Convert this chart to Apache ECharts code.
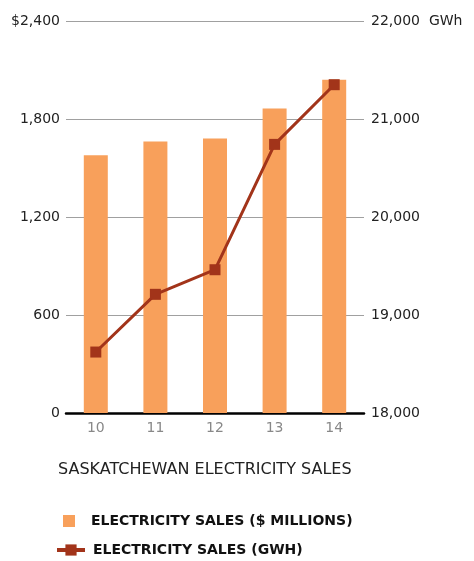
<!DOCTYPE html>
<html>
<head>
<meta charset="utf-8">
<script src="https://cdn.jsdelivr.net/npm/echarts@6/dist/echarts.min.js"></script>
<style>
  html, body { margin: 0; padding: 0; background: #fff; }
  #chart { width: 474px; height: 561px; }
</style>
</head>
<body>
<div id="chart"></div>
<script>
// fiscal years (x-axis)
const years = ["10", "11", "12", "13", "14"];
// electricity sales, $ millions (left axis, bars)
const salesDollars = [1578, 1663, 1681, 1864, 2041];
// electricity sales, GWh (right axis, line)
const salesGwh = [18622, 19211, 19462, 20741, 21350];

const FONT = "DejaVu Sans";
const BAR_COLOR = "#F8A05B";
const LINE_COLOR = "#A2341A";

const chart = echarts.init(document.getElementById("chart"), null, { renderer: "canvas" });

chart.setOption({
  animation: false,
  textStyle: { fontFamily: FONT },
  title: {
    text: "SASKATCHEWAN ELECTRICITY SALES",
    left: 53,
    top: 457,
    textStyle: { fontFamily: FONT, fontSize: 16, fontWeight: "normal", color: "#222" },
  },
  grid: { left: 66, right: 110, top: 21, bottom: 148, containLabel: false },
  legend: [
    {
      data: ["ELECTRICITY SALES ($ MILLIONS)"],
      left: 63,
      top: 514,
      padding: 0,
      itemWidth: 12,
      itemHeight: 12,
      icon: "rect",
      textStyle: { fontFamily: FONT, fontSize: 14, fontWeight: "bold", color: "#111", padding: [0, 0, 0, 11] },
    },
    {
      data: ["ELECTRICITY SALES (GWH)"],
      left: 55,
      top: 543,
      padding: 0,
      itemWidth: 28,
      itemHeight: 14,
      lineStyle: { width: 4 },
      textStyle: { fontFamily: FONT, fontSize: 14, fontWeight: "bold", color: "#111", padding: [0, 0, 0, 3] },
    },
  ],
  xAxis: {
    type: "category",
    data: years,
    axisLine: { lineStyle: { color: "#000", width: 2.5 } },
    axisTick: { show: false },
    axisLabel: { color: "#888", fontSize: 14, margin: 8 },
  },
  yAxis: [
    {
      type: "value",
      min: 0,
      max: 2400,
      interval: 600,
      axisLine: { show: false },
      axisTick: { show: false },
      axisLabel: {
        color: "#222",
        fontSize: 14,
        margin: 6,
        formatter: (v) => (v === 2400 ? "$2,400" : v.toLocaleString("en-US")),
      },
      splitLine: { lineStyle: { color: "#a0a0a0", width: 1.2 } },
    },
    {
      type: "value",
      min: 18000,
      max: 22000,
      interval: 1000,
      axisLine: { show: false },
      axisTick: { show: false },
      axisLabel: {
        color: "#222",
        fontSize: 14,
        margin: 7,
        formatter: (v) => (v === 22000 ? "22,000  GWh" : v.toLocaleString("en-US")),
      },
      splitLine: { show: false },
    },
  ],
  series: [
    {
      name: "ELECTRICITY SALES ($ MILLIONS)",
      type: "bar",
      yAxisIndex: 0,
      data: salesDollars,
      barWidth: 24,
      itemStyle: { color: BAR_COLOR },
    },
    {
      name: "ELECTRICITY SALES (GWH)",
      type: "line",
      yAxisIndex: 1,
      data: salesGwh,
      symbol: "rect",
      symbolSize: 11,
      lineStyle: { color: LINE_COLOR, width: 3 },
      itemStyle: { color: LINE_COLOR },
    },
  ],
});
</script>
</body>
</html>
